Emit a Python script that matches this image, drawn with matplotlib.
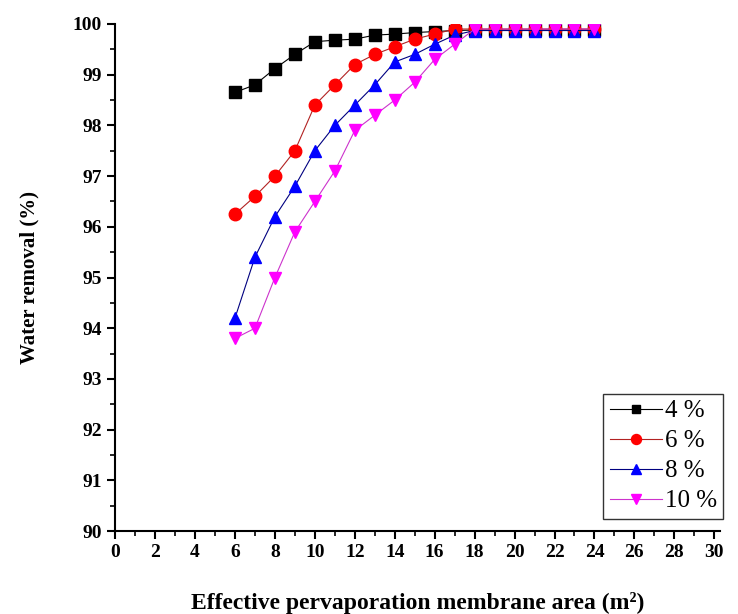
import matplotlib.pyplot as plt
import numpy as np

plt.rcParams['font.family'] = ['Liberation Serif', 'DejaVu Serif']

# membrane area (m2)
area = [6, 7, 8, 9, 10, 11, 12, 13, 14, 15, 16, 17, 18, 19, 20, 21, 22, 23, 24]

# water removal (%) for each feed water content
wr_4 = [98.65, 98.8, 99.12, 99.4, 99.65, 99.68, 99.7, 99.78, 99.8, 99.83, 99.85, 99.87,
        99.88, 99.88, 99.88, 99.88, 99.88, 99.88, 99.88]
wr_6 = [96.25, 96.6, 97.0, 97.5, 98.4, 98.8, 99.2, 99.4, 99.55, 99.7, 99.8, 99.9,
        99.9, 99.9, 99.9, 99.9, 99.9, 99.9, 99.9]
wr_8 = [94.2, 95.4, 96.2, 96.8, 97.5, 98.0, 98.4, 98.8, 99.25, 99.4, 99.6, 99.78,
        99.87, 99.87, 99.87, 99.87, 99.87, 99.87, 99.87]
wr_10 = [93.8, 94.0, 95.0, 95.9, 96.5, 97.1, 97.9, 98.2, 98.5, 98.85, 99.3, 99.6,
         99.9, 99.9, 99.9, 99.9, 99.9, 99.9, 99.9]

labels = ['4 %', '6 %', '8 %', '10 %']

fig = plt.figure(figsize=(7.38, 6.14), dpi=100)
ax = fig.add_axes([0.156, 0.135, 0.82, 0.826])

ax.plot(area, wr_4, '-s', color='black', mfc='black', mec='black', lw=0.8, ms=8, label=labels[0])
ax.plot(area, wr_6, '-o', color='#b22222', mfc='red', mec='red', lw=0.8, ms=9, label=labels[1])
ax.plot(area, wr_8, '-^', color='#000080', mfc='blue', mec='blue', lw=0.8, ms=9, label=labels[2])
ax.plot(area, wr_10, '-v', color='#cc33cc', mfc='magenta', mec='magenta', lw=0.8, ms=9, label=labels[3])

ax.set_xlim(0, 30.3)
ax.set_ylim(90, 100)
ax.set_xticks(np.arange(0, 31, 2))
ax.set_xticks(np.arange(1, 31, 2), minor=True)
ax.set_yticks(np.arange(90, 101, 1))
ax.set_yticks(np.arange(90.5, 100, 1), minor=True)

for s in ['top', 'right']:
    ax.spines[s].set_visible(False)
for s in ['left', 'bottom']:
    ax.spines[s].set_linewidth(1.5)

ax.tick_params(which='major', direction='out', length=6, width=1.5, labelsize=14)
ax.tick_params(which='minor', direction='out', length=3.5, width=1.2)
for t in ax.get_xticklabels() + ax.get_yticklabels():
    t.set_fontweight('bold')

ax.set_xlabel('Effective pervaporation membrane area (m\u00b2)', fontsize=17,
              fontweight='bold', labelpad=22)
ax.set_ylabel('Water removal (%)', fontsize=15, fontweight='bold', labelpad=24)

leg = ax.legend(loc='lower right', fontsize=18, frameon=True, fancybox=False,
                edgecolor='black', handlelength=2.1, handletextpad=0.1,
                borderpad=0.25, labelspacing=0.3, markerscale=0.8,
                bbox_to_anchor=(1.025, 0.0))
leg.get_frame().set_linewidth(1.0)

fig.savefig('out.png', dpi=100)
